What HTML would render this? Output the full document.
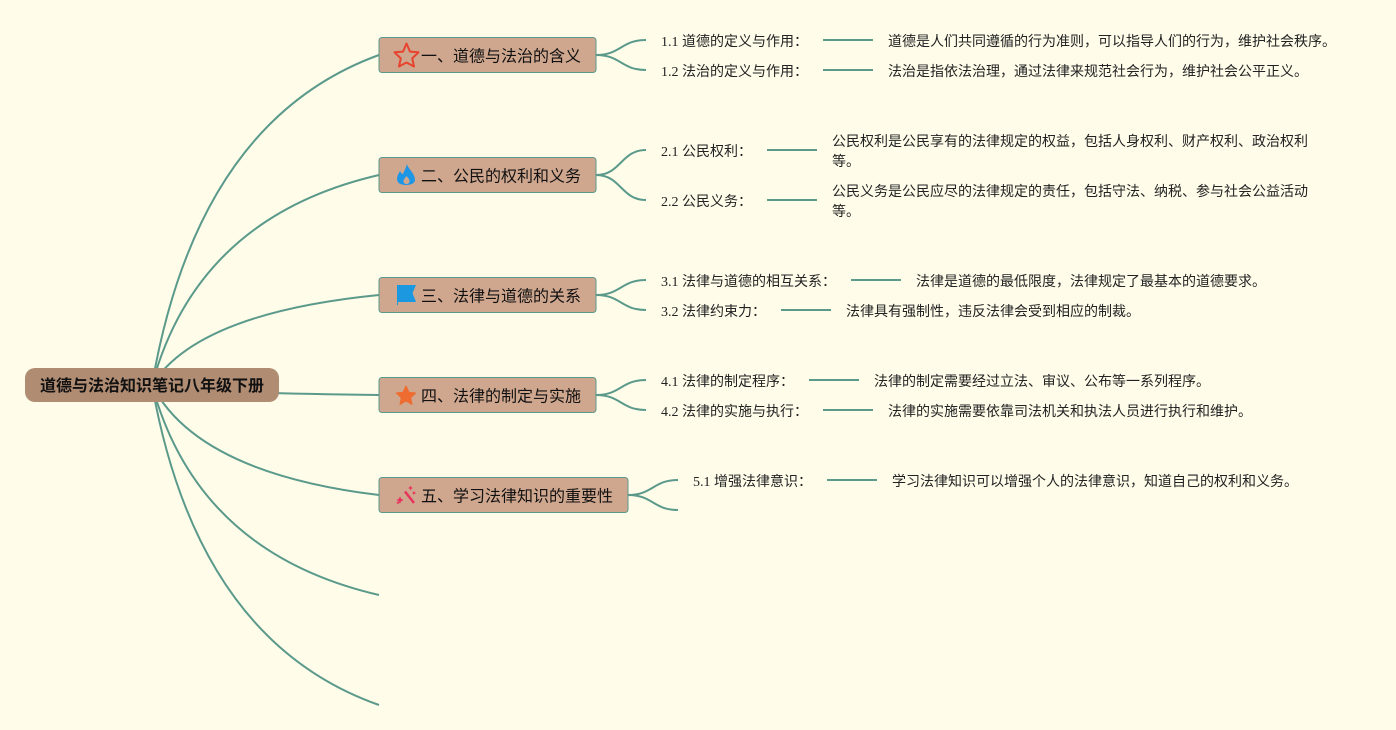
<!DOCTYPE html>
<html><head><meta charset="utf-8">
<style>
html,body{margin:0;padding:0;background:#fffcea;width:1396px;height:730px;overflow:hidden}
svg{display:block}
.t{font:16px "Noto Sans CJK SC",sans-serif;fill:#111}
.c{font:14px "Liberation Serif","Noto Sans CJK SC",serif;fill:#222}
.r{font:bold 16px "Liberation Sans","Noto Sans CJK SC",sans-serif;fill:#111}
.l{fill:none;stroke:#5b9a8b;stroke-width:2}
.b{fill:#cfa68e;stroke:#5b9a8b;stroke-width:1}
</style></head><body>
<svg width="1396" height="730" viewBox="0 0 1396 730" xmlns="http://www.w3.org/2000/svg">
<rect width="1396" height="730" fill="#fffcea"/>
<path class="l" d="M152 385Q197.400 121 379 55"/>
<path class="l" d="M152 385Q197.400 217 379 175"/>
<path class="l" d="M152 385Q197.400 313 379 295"/>
<path class="l" d="M152 385Q197.400 393 379 395"/>
<path class="l" d="M152 385Q197.400 473 379 495"/>
<path class="l" d="M152 385Q197.400 553 379 595"/>
<path class="l" d="M152 385Q197.400 641 379 705"/>
<path class="l" d="M596 55C621 55 621 40 646 40M596 55C621 55 621 70 646 70"/>
<path class="l" d="M596 175C621 175 621 150 646 150M596 175C621 175 621 200 646 200"/>
<path class="l" d="M596 295C621 295 621 280 646 280M596 295C621 295 621 310 646 310"/>
<path class="l" d="M596 395C621 395 621 380 646 380M596 395C621 395 621 410 646 410"/>
<path class="l" d="M628 495C653 495 653 480 678 480M628 495C653 495 653 510 678 510"/>
<path class="l" d="M823 40H873M823 70H873M767 150H817M767 200H817M851 280H901M781 310H831M809 380H859M823 410H873M827 480H877"/>
<rect x="25" y="368" width="254" height="34" rx="10" fill="#b08c72"/>
<text class="r" x="40" y="391">道德与法治知识笔记八年级下册</text>
<rect class="b" x="379" y="37.500" width="217" height="35" rx="3"/>
<rect class="b" x="379" y="157.500" width="217" height="35" rx="3"/>
<rect class="b" x="379" y="277.500" width="217" height="35" rx="3"/>
<rect class="b" x="379" y="377.500" width="217" height="35" rx="3"/>
<rect class="b" x="379" y="477.500" width="249" height="35" rx="3"/>
<text class="t" x="421" y="61.500">一、道德与法治的含义</text>
<text class="t" x="421" y="181.500">二、公民的权利和义务</text>
<text class="t" x="421" y="301.500">三、法律与道德的关系</text>
<text class="t" x="421" y="401.500">四、法律的制定与实施</text>
<text class="t" x="421" y="501.500">五、学习法律知识的重要性</text>
<!-- icons -->
<path d="M406.500 43.500L410 51.600L418.500 52.300L412.200 58.400L414 66.500L406.500 62.500L399 66.500L400.800 58.400L394.500 52.300L403 51.600Z" fill="none" stroke="#e8432e" stroke-width="2" stroke-linejoin="round"/>
<path d="M407 164C408 169 415 173 415 180C415 182.500 412 185 406 185C400 185 397 182.500 397 179C397 176 399 173 400 171C401 173 402 174 403 174C404 171 406 168 407 164ZM406.500 176C405 178.500 403.500 179 403.500 181C403.500 183 405 184 406.500 184C408 184 409.500 183 409.500 181C409.500 179 408 178 406.500 176Z" fill="#1e96e6" fill-rule="evenodd"/>
<path d="M397 285H416L412.500 293L416 302H398V305H397Z" fill="#1b98e0"/>
<path d="M406 386L408.900 392.200L415.700 393L410.700 397.600L412 404.400L406 401L400 404.400L401.300 397.600L396.300 393L403.100 392.200Z" fill="#ee6c30" stroke="#ee6c30" stroke-linejoin="round"/>
<path d="M405 491.500L414 503" stroke="#e8345c" stroke-width="2.500" fill="none"/>
<path d="M400 496.500l1.200 2.300 2.300 1.200-2.300 1.200-1.200 2.300-1.200-2.300-2.300-1.200 2.300-1.200zM410.500 485.500l.8 1.700 1.700.8-1.700.8-.8 1.700-.8-1.700-1.700-.8 1.700-.8zM414 491l.7 1.300 1.300.7-1.300.7-.7 1.300-.7-1.300-1.300-.7 1.300-.7zM398 501l.7 1 1 .7-1 .7-.7 1-.7-1-1-.7 1-.7z" fill="#e8345c"/>
<text class="c" x="661" y="46">1.1 道德的定义与作用：</text>
<text class="c" x="888" y="46">道德是人们共同遵循的行为准则，可以指导人们的行为，维护社会秩序。</text>
<text class="c" x="661" y="76">1.2 法治的定义与作用：</text>
<text class="c" x="888" y="76">法治是指依法治理，通过法律来规范社会行为，维护社会公平正义。</text>
<text class="c" x="661" y="156">2.1 公民权利：</text>
<text class="c" x="832" y="146">公民权利是公民享有的法律规定的权益，包括人身权利、财产权利、政治权利</text>
<text class="c" x="832" y="166">等。</text>
<text class="c" x="661" y="206">2.2 公民义务：</text>
<text class="c" x="832" y="196">公民义务是公民应尽的法律规定的责任，包括守法、纳税、参与社会公益活动</text>
<text class="c" x="832" y="216">等。</text>
<text class="c" x="661" y="286">3.1 法律与道德的相互关系：</text>
<text class="c" x="916" y="286">法律是道德的最低限度，法律规定了最基本的道德要求。</text>
<text class="c" x="661" y="316">3.2 法律约束力：</text>
<text class="c" x="846" y="316">法律具有强制性，违反法律会受到相应的制裁。</text>
<text class="c" x="661" y="386">4.1 法律的制定程序：</text>
<text class="c" x="874" y="386">法律的制定需要经过立法、审议、公布等一系列程序。</text>
<text class="c" x="661" y="416">4.2 法律的实施与执行：</text>
<text class="c" x="888" y="416">法律的实施需要依靠司法机关和执法人员进行执行和维护。</text>
<text class="c" x="693" y="486">5.1 增强法律意识：</text>
<text class="c" x="892" y="486">学习法律知识可以增强个人的法律意识，知道自己的权利和义务。</text>
</svg>
</body></html>
